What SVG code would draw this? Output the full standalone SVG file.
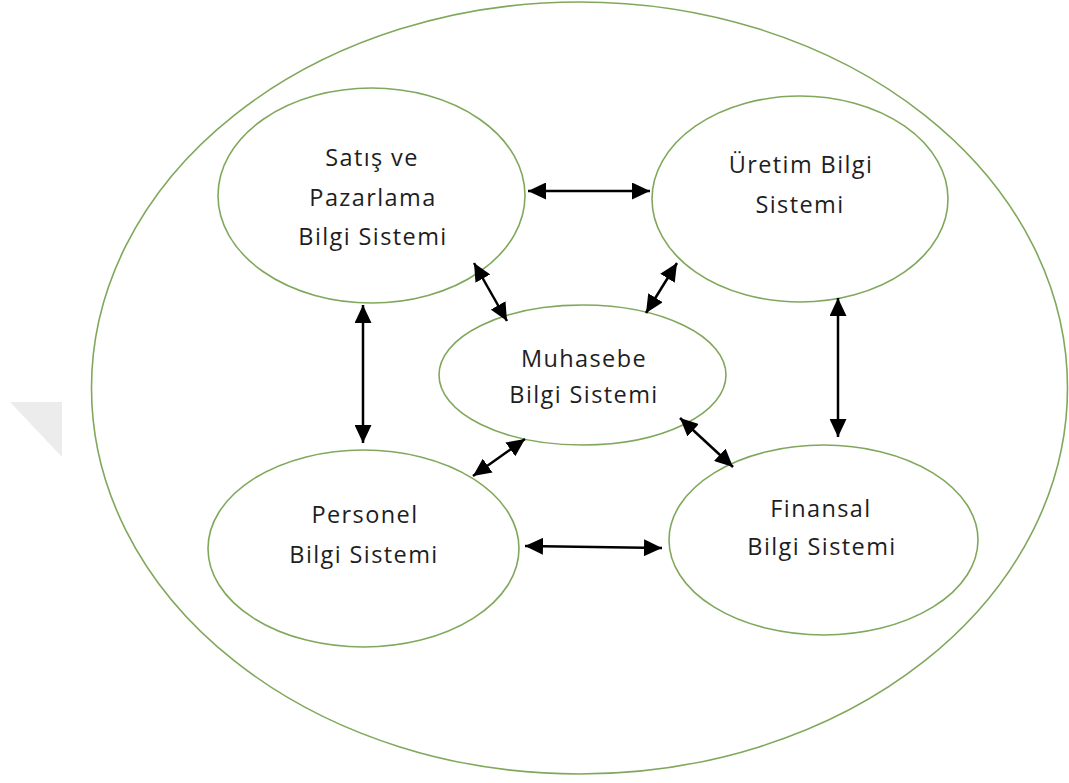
<svg xmlns="http://www.w3.org/2000/svg" width="1069" height="783" viewBox="0 0 1069 783">
<defs>
<style>
.node{fill:none;stroke:#80a85c;stroke-width:1.6}
.lbl{font-family:"Open Sans","Liberation Sans",sans-serif;font-size:23.5px;fill:#1e1e1e;text-anchor:middle;letter-spacing:1.4px}
.arr{stroke:#000;stroke-width:2.5;fill:none;marker-start:url(#ah);marker-end:url(#ah)}
</style>
<marker id="ah" markerUnits="userSpaceOnUse" markerWidth="18" markerHeight="17" refX="18" refY="8.5" orient="auto-start-reverse">
<path d="M0,0 L18,8.5 L0,17 z" fill="#000"/>
</marker>
</defs>
<rect width="1069" height="783" fill="#fff"/>
<polygon points="10,402 62,402 62,457" fill="#ececec"/>
<g id="outer"><ellipse class="node" cx="579.5" cy="388" rx="488" ry="386"/></g>
<g id="satis">
<ellipse class="node" cx="371.5" cy="195.5" rx="153.5" ry="107.5"/>
<text class="lbl" x="372" y="166">Satış ve</text>
<text class="lbl" x="373" y="206">Pazarlama</text>
<text class="lbl" x="373" y="245">Bilgi Sistemi</text>
</g>
<g id="uretim">
<ellipse class="node" cx="800" cy="199" rx="148" ry="103"/>
<text class="lbl" x="801" y="173">Üretim Bilgi</text>
<text class="lbl" x="800" y="213">Sistemi</text>
</g>
<g id="muhasebe">
<ellipse class="node" cx="582.5" cy="375" rx="143.5" ry="70"/>
<text class="lbl" x="584" y="367">Muhasebe</text>
<text class="lbl" x="584" y="403">Bilgi Sistemi</text>
</g>
<g id="personel">
<ellipse class="node" cx="363.5" cy="548.5" rx="155.5" ry="98.5"/>
<text class="lbl" x="365" y="523">Personel</text>
<text class="lbl" x="364" y="563">Bilgi Sistemi</text>
</g>
<g id="finansal">
<ellipse class="node" cx="823.5" cy="540" rx="154.5" ry="95"/>
<text class="lbl" x="821" y="517">Finansal</text>
<text class="lbl" x="822" y="555">Bilgi Sistemi</text>
</g>
<g id="connectors">
<line class="arr" x1="528" y1="191" x2="650" y2="191"/>
<line class="arr" x1="474" y1="263" x2="507" y2="321"/>
<line class="arr" x1="677" y1="263" x2="646" y2="313"/>
<line class="arr" x1="363" y1="305" x2="363" y2="443"/>
<line class="arr" x1="838" y1="298" x2="838" y2="437"/>
<line class="arr" x1="525" y1="439" x2="473" y2="476"/>
<line class="arr" x1="680" y1="418" x2="733" y2="467"/>
<line class="arr" x1="525" y1="546" x2="662" y2="548"/>
</g>
</svg>
